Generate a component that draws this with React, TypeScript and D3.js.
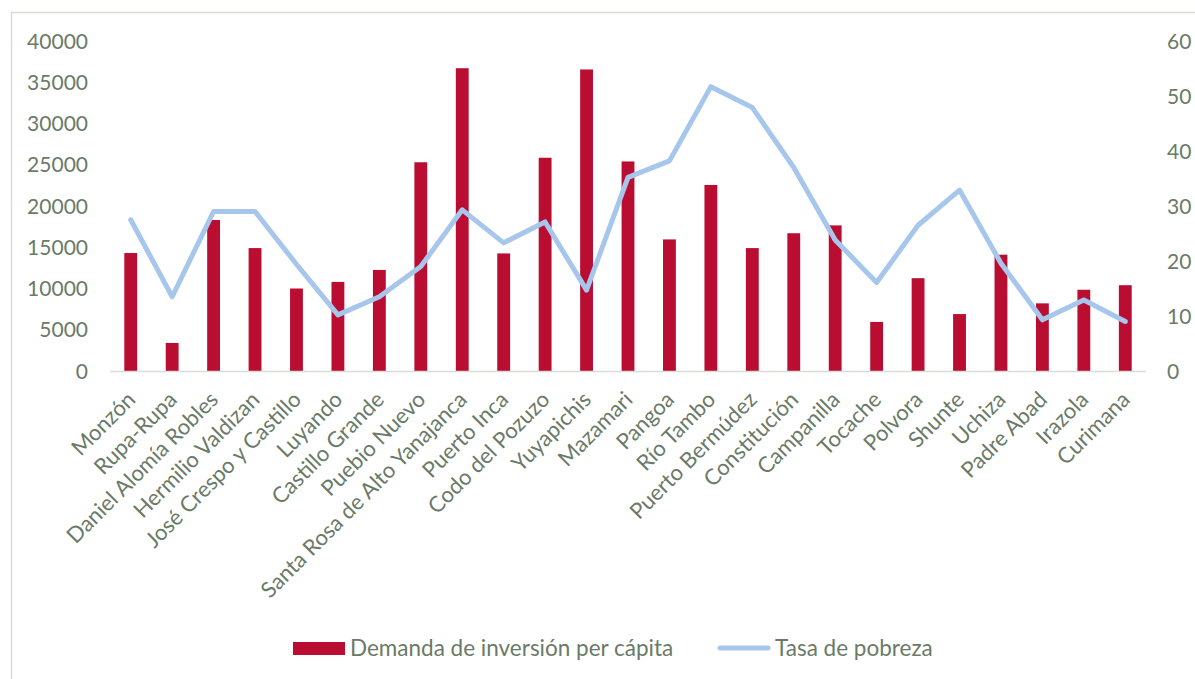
import React from "react";
import * as d3 from "d3";

const categories = [
  "Monzón", "Rupa-Rupa", "Daniel Alomía Robles", "Hermilio Valdizan", "José Crespo y Castillo",
  "Luyando", "Castillo Grande", "Puebio Nuevo", "Santa Rosa de Alto Yanajanca", "Puerto Inca",
  "Codo del Pozuzo", "Yuyapichis", "Mazamari", "Pangoa", "Río Tambo", "Puerto Bermúdez",
  "Constitución", "Campanilla", "Tocache", "Polvora", "Shunte", "Uchiza", "Padre Abad",
  "Irazola", "Curimana",
];

const demanda = [
  14300, 3400, 18300, 14900, 10000, 10800, 12250, 25300, 36700, 14250, 25850, 36550,
  25400, 15950, 22550, 14900, 16700, 17650, 5950, 11250, 6900, 14100, 8200, 9850, 10400,
];

const pobreza = [
  27.5, 13.5, 29.0, 29.0, 19.4, 10.2, 13.5, 19.0, 29.3, 23.3, 27.1, 14.7,
  35.2, 38.2, 51.7, 47.9, 37.0, 23.8, 16.1, 26.5, 32.9, 19.6, 9.3, 12.9, 9.0,
];

const leftTicks = [0, 5000, 10000, 15000, 20000, 25000, 30000, 35000, 40000];
const rightTicks = [0, 10, 20, 30, 40, 50, 60];

const seriesNames = ["Demanda de inversión per cápita", "Tasa de pobreza"];

export default function App() {
  const W = 1195, H = 679;
  const left = 110, right = 1146, top = 41, bottom = 371;
  const font = "Lato, 'Open Sans', sans-serif";
  const textColor = "#6a7a68";
  const barColor = "#b90e31";
  const lineColor = "#a7c6ec";

  const x = d3.scaleBand<string>().domain(categories).range([left, right]).paddingInner(0.69).paddingOuter(0.345);
  const yL = d3.scaleLinear().domain([0, 40000]).range([bottom, top]);
  const yR = d3.scaleLinear().domain([0, 60]).range([bottom, top]);
  const cx = (c: string) => (x(c) as number) + x.bandwidth() / 2;

  const line = d3.line<number>()
    .x((_, i) => cx(categories[i]))
    .y((d) => yR(d));

  return (
    <svg width={W} height={H} style={{ position: "absolute", left: 0, top: 0, display: "block" }} fontFamily={font}>
      <rect x={0} y={0} width={W} height={H} fill="#fff" />
      <rect x={11.5} y={12.5} width={W + 20} height={H + 20} fill="none" stroke="#d9dcd8" strokeWidth={1.5} />
      {leftTicks.map((t) => (
        <text key={"l" + t} x={88} y={yL(t)} dy="0.36em" textAnchor="end" fontSize={21} fill={textColor}>{t}</text>
      ))}
      {rightTicks.map((t) => (
        <text key={"r" + t} x={1167} y={yR(t)} dy="0.36em" textAnchor="start" fontSize={21} fill={textColor}>{t}</text>
      ))}
      {categories.map((c, i) => (
        <rect key={"b" + c} x={x(c)} y={yL(demanda[i])} width={x.bandwidth()} height={bottom - yL(demanda[i])} fill={barColor} />
      ))}
      <line x1={left} x2={right} y1={bottom + 0.5} y2={bottom + 0.5} stroke="#d9dcd8" strokeWidth={1.5} />
      <path d={line(pobreza) || ""} fill="none" stroke={lineColor} strokeWidth={5} strokeLinejoin="round" strokeLinecap="round" />
      {categories.map((c) => (
        <text key={"t" + c} transform={`translate(${cx(c) + 6},${bottom + 30}) rotate(-45)`} textAnchor="end" fontSize={22} fill={textColor}>{c}</text>
      ))}
      <rect x={293} y={642} width={52} height={13} fill={barColor} />
      <text x={350} y={648} dy="0.36em" fontSize={22.5} fill={textColor}>{seriesNames[0]}</text>
      <line x1={720} x2={768} y1={648} y2={648} stroke={lineColor} strokeWidth={5} strokeLinecap="round" />
      <text x={775} y={648} dy="0.36em" fontSize={22.5} fill={textColor}>{seriesNames[1]}</text>
    </svg>
  );
}
